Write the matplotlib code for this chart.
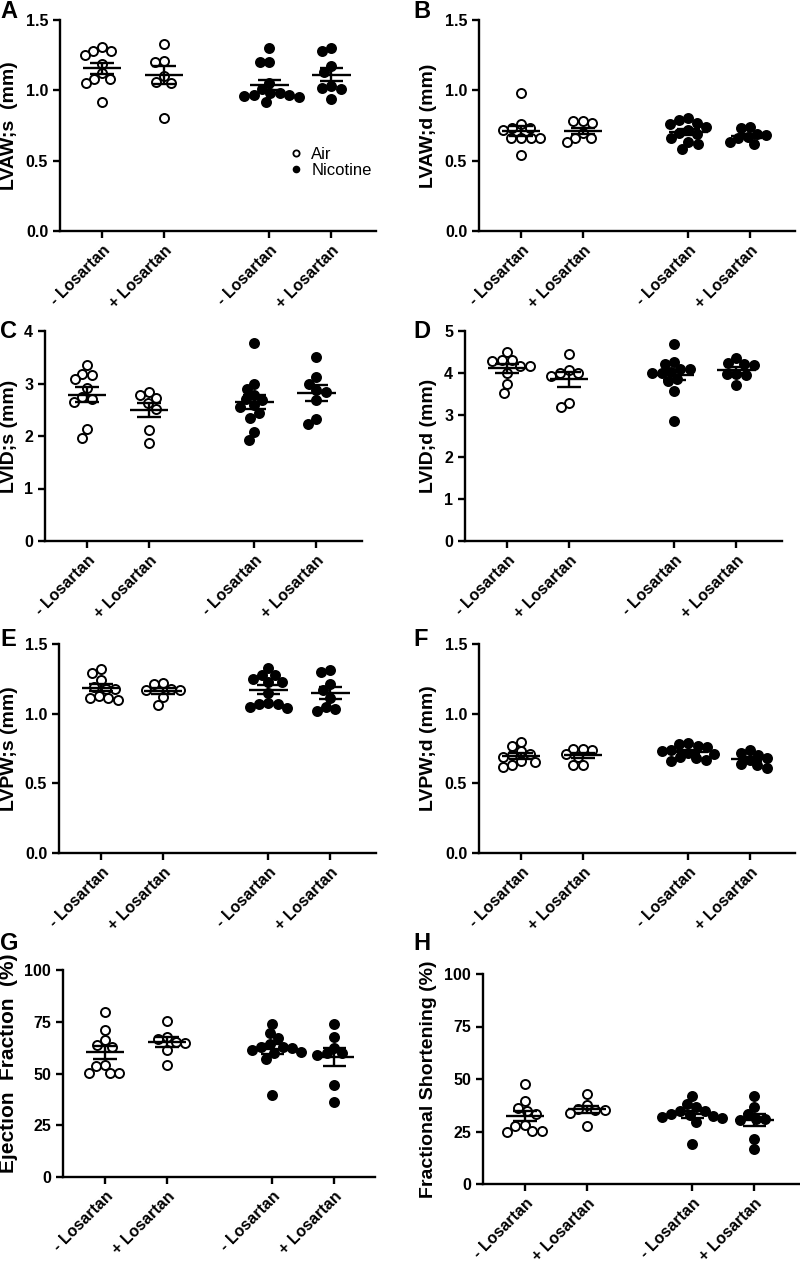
import numpy as np
import matplotlib
matplotlib.use('Agg')
import matplotlib.pyplot as plt
from matplotlib.lines import Line2D

plt.rcParams['font.family'] = ['Liberation Sans', 'DejaVu Sans']
plt.rcParams['font.weight'] = 'bold'

# group order: Air -Los, Air +Los, Nicotine -Los, Nicotine +Los
groups = ['- Losartan', '+ Losartan', '- Losartan', '+ Losartan']
filled = [False, False, True, True]

lvaw_s = [
    [1.31, 1.28, 1.28, 1.25, 1.19, 1.12, 1.08, 1.08, 1.05, 0.92],
    [1.33, 1.21, 1.20, 1.10, 1.06, 1.05, 0.80],
    [1.30, 1.20, 1.20, 1.05, 1.01, 0.98, 0.98, 0.97, 0.97, 0.96, 0.95, 0.92],
    [1.30, 1.28, 1.17, 1.13, 1.03, 1.02, 1.01, 0.94],
]
lvaw_d = [
    [0.98, 0.76, 0.73, 0.72, 0.73, 0.66, 0.66, 0.66, 0.66, 0.54],
    [0.77, 0.78, 0.78, 0.70, 0.66, 0.66, 0.63],
    [0.80, 0.79, 0.77, 0.76, 0.74, 0.72, 0.70, 0.69, 0.66, 0.63, 0.62, 0.58],
    [0.74, 0.73, 0.69, 0.68, 0.67, 0.66, 0.63, 0.62],
]
lvid_s = [
    [3.35, 3.19, 3.17, 3.08, 2.91, 2.75, 2.70, 2.65, 2.13, 1.97],
    [2.84, 2.78, 2.72, 2.63, 2.52, 2.11, 1.87],
    [3.78, 3.00, 2.89, 2.78, 2.70, 2.68, 2.59, 2.56, 2.43, 2.35, 2.08, 1.93],
    [3.50, 3.12, 3.00, 2.87, 2.84, 2.68, 2.32, 2.22],
]
lvid_d = [
    [4.49, 4.30, 4.30, 4.28, 4.17, 4.17, 3.99, 3.75, 3.53],
    [4.45, 4.07, 4.01, 3.99, 3.93, 3.29, 3.18],
    [4.69, 4.27, 4.21, 4.09, 4.09, 4.03, 3.99, 3.99, 3.85, 3.81, 3.58, 2.85],
    [4.35, 4.23, 4.22, 4.20, 3.97, 3.97, 3.95, 3.71],
]
lvpw_s = [
    [1.32, 1.29, 1.24, 1.19, 1.18, 1.18, 1.13, 1.11, 1.11, 1.10],
    [1.22, 1.21, 1.18, 1.17, 1.17, 1.12, 1.06],
    [1.33, 1.28, 1.28, 1.25, 1.23, 1.23, 1.15, 1.08, 1.07, 1.07, 1.05, 1.04],
    [1.31, 1.30, 1.21, 1.17, 1.11, 1.05, 1.03, 1.02],
]
lvpw_d = [
    [0.80, 0.77, 0.73, 0.71, 0.70, 0.69, 0.66, 0.65, 0.63, 0.62],
    [0.75, 0.75, 0.74, 0.71, 0.69, 0.63, 0.63],
    [0.79, 0.78, 0.77, 0.76, 0.74, 0.73, 0.72, 0.71, 0.69, 0.68, 0.67, 0.66],
    [0.74, 0.72, 0.70, 0.68, 0.67, 0.64, 0.63, 0.61],
]
ejection = [
    [79.7, 71.1, 66.2, 64.0, 63.0, 54.2, 53.4, 50.2, 50.2, 50.2],
    [75.6, 67.5, 66.6, 65.4, 64.9, 61.4, 54.2],
    [74.0, 69.5, 67.0, 64.3, 63.0, 63.0, 62.2, 61.5, 60.6, 60.0, 57.1, 39.7],
    [73.8, 67.5, 62.5, 59.8, 59.8, 59.0, 44.5, 36.0],
]
shortening = [
    [47.6, 39.4, 36.2, 34.6, 33.5, 28.0, 27.5, 25.1, 25.1, 25.0],
    [43.0, 37.8, 35.7, 35.4, 35.4, 33.8, 27.8],
    [42.1, 38.3, 36.7, 35.0, 34.6, 33.5, 33.0, 32.5, 31.9, 31.5, 29.4, 19.2],
    [41.7, 36.7, 33.5, 31.1, 31.1, 30.5, 21.6, 16.8],
]

W, H = 800, 1261
xpos = np.array([0, 1, 2.7, 3.7])

# letter, data, ylabel, ymax, yticks, fmt, (left, right, top, bottom) in px
panels = [
    ('A', lvaw_s, 'LVAW;s  (mm)', 1.5, [0, 0.5, 1.0, 1.5], '%.1f', (60, 376, 20, 231)),
    ('B', lvaw_d, 'LVAW;d (mm)', 1.5, [0, 0.5, 1.0, 1.5], '%.1f', (479, 795, 20, 231)),
    ('C', lvid_s, 'LVID;s (mm)', 4, [0, 1, 2, 3, 4], '%d', (45, 362, 331, 541)),
    ('D', lvid_d, 'LVID;d (mm)', 5, [0, 1, 2, 3, 4, 5], '%d', (465, 782, 331, 541)),
    ('E', lvpw_s, 'LVPW;s (mm)', 1.5, [0, 0.5, 1.0, 1.5], '%.1f', (59, 376, 644, 853)),
    ('F', lvpw_d, 'LVPW;d (mm)', 1.5, [0, 0.5, 1.0, 1.5], '%.1f', (479, 795, 644, 853)),
    ('G', ejection, 'Ejection  Fraction  (%)', 100, [0, 25, 50, 75, 100], '%d', (63, 375, 970, 1177)),
    ('H', shortening, 'Fractional Shortening (%)', 100, [0, 25, 50, 75, 100], '%d', (483, 800, 974, 1184)),
]
letter_base = [18, 18, 338, 338, 646, 646, 950, 950]


def swarm(vals, ppy, ppx, diam):
    # simple beeswarm: returns x offsets in data units
    ys = np.asarray(vals, float) * ppy
    order = np.argsort(-ys, kind='stable')
    placed = []
    offs = np.zeros(len(ys))
    for i in order:
        y = ys[i]
        cands = [0.0]
        for px, py in placed:
            dy = abs(py - y)
            if dy < diam:
                dx = np.sqrt(diam ** 2 - dy ** 2)
                cands += [px + dx, px - dx]
        cands.sort(key=lambda c: (abs(c), c))
        for c in cands:
            if all((c - px) ** 2 + (y - py) ** 2 >= diam ** 2 - 1e-6 for px, py in placed):
                break
        placed.append((c, y))
        offs[i] = c / ppx
    return offs


fig = plt.figure(figsize=(W / 100, H / 100), dpi=100)

for k, (letter, data, ylabel, ymax, yticks, fmt, box) in enumerate(panels):
    l, r, t, b = box
    ax = fig.add_axes([l / W, 1 - b / H, (r - l) / W, (b - t) / H])
    x0 = -(42 / 62)
    x1 = x0 + (r - l) / 62
    ax.set_xlim(x0, x1)
    ax.set_ylim(0, ymax)
    ppy = (b - t) / ymax
    ppx = (r - l) / (x1 - x0)

    for g, vals in enumerate(data):
        vals = np.array(vals)
        offs = swarm(vals, ppy, ppx, 9.6)
        face = 'black' if filled[g] else 'white'
        ax.plot(xpos[g] + offs, vals, 'o', ms=6.5, mfc=face, mec='black',
                mew=1.4, ls='none', zorder=3, clip_on=False)
        m = vals.mean()
        sem = vals.std(ddof=1) / np.sqrt(len(vals))
        ax.hlines(m, xpos[g] - 0.31, xpos[g] + 0.31, color='black', lw=1.7, zorder=4)
        ax.hlines([m - sem, m + sem], xpos[g] - 0.19, xpos[g] + 0.19, color='black', lw=1.7, zorder=4)
        ax.vlines(xpos[g], m - sem, m + sem, color='black', lw=1.7, zorder=4)

    for s in ['top', 'right']:
        ax.spines[s].set_visible(False)
    for s in ['left', 'bottom']:
        ax.spines[s].set_linewidth(1.7)
    ax.tick_params(direction='out', length=5, width=1.7)
    ax.set_yticks(yticks)
    ax.set_yticklabels([fmt % v for v in yticks], fontsize=11.5, fontweight='bold')
    ax.set_xticks(xpos)
    ax.set_xticklabels(groups, rotation=45, ha='right', rotation_mode='anchor',
                       fontsize=11.5, fontweight='bold')

    lab_x = 18 if k % 2 == 0 else 437
    ax.set_ylabel(ylabel, fontsize=15 if letter == 'G' else 14, fontweight='bold')
    ax.yaxis.set_label_coords((lab_x - l) / (r - l), 0.5 if letter != 'G' else 0.55)

    fx = 0 if k % 2 == 0 else 413
    fig.text(fx / W, 1 - letter_base[k] / H, letter, fontsize=17, fontweight='bold',
             ha='left', va='baseline')

    if letter == 'A':
        handles = [Line2D([], [], marker='o', ls='none', ms=4.5, mfc='white', mec='black', mew=1.3),
                   Line2D([], [], marker='o', ls='none', ms=4.5, mfc='black', mec='black')]
        ax.legend(handles, ['Air', 'Nicotine'], loc='center left',
                  bbox_to_anchor=(288 / W, 1 - 162.5 / H), bbox_transform=fig.transFigure,
                  frameon=False, borderpad=0, borderaxespad=0, handlelength=1.0,
                  handletextpad=0.4, labelspacing=0.1,
                  prop={'weight': 'normal', 'size': 12})

fig.savefig('out.png', dpi=100)
